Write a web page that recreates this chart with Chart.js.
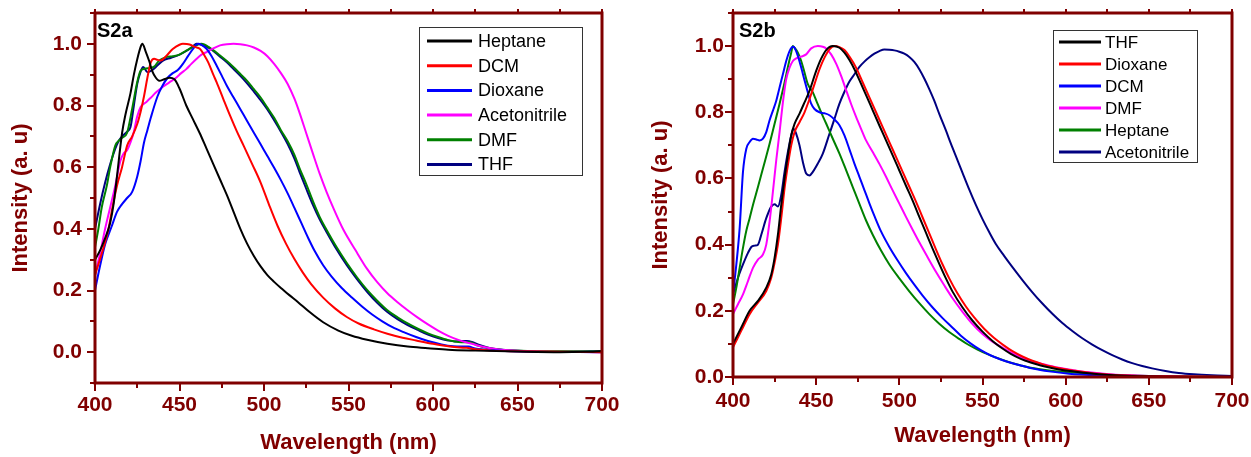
<!DOCTYPE html>
<html><head><meta charset="utf-8">
<script src="https://cdn.jsdelivr.net/npm/chart.js@4.4.0/dist/chart.umd.min.js"></script>
<style>
html,body{margin:0;padding:0;background:#fff;overflow:hidden;}
#wrap{position:relative;width:1251px;height:457px;}
.box{position:absolute;top:0;height:457px;}
#b1{left:0;width:625px;} #b2{left:625px;width:626px;}
</style></head><body>
<div id="wrap">
<div class="box" id="b1"><canvas id="c1" width="625" height="457"></canvas></div>
<div class="box" id="b2"><canvas id="c2" width="626" height="457"></canvas></div>
</div>
<script>
// ---------- tick values / labels ----------
const xTickValues = [400,425,450,475,500,525,550,575,600,625,650,675,700];
const xLabelValues = [400,450,500,550,600,650,700];
const yTickValuesA = [-0.1,0,0.1,0.2,0.3,0.4,0.5,0.6,0.7,0.8,0.9,1.0,1.1];
const yTickValuesB = [0,0.1,0.2,0.3,0.4,0.5,0.6,0.7,0.8,0.9,1.0,1.1];
const yLabelValues = [0,0.2,0.4,0.6,0.8,1.0];
const xTitle = 'Wavelength (nm)';
const yTitle = 'Intensity (a. u)';

// ---------- S2a series: [wavelength nm, intensity] ----------
const s2aLabels = ['Heptane','DCM','Dioxane','Acetonitrile','DMF','THF'];
const s2aHeptane = [[400,.30],[403,.33],[406,.37],[409,.42],[411,.48],[413,.57],[416,.71],[418,.77],[421,.84],[423,.90],[425,.95],[427,.99],[428,1.0],[430,.975],[432,.945],[434,.91],[436,.89],[438,.88],[441,.885],[444,.89],[447,.885],[450,.855],[454,.80],[458,.755],[462,.71],[466,.66],[470,.61],[474,.56],[478,.51],[482,.455],[486,.40],[490,.352],[494,.312],[498,.278],[502,.25],[506,.228],[510,.208],[515,.185],[520,.163],[527,.13],[535,.097],[544,.07],[552,.053],[561,.04],[573,.027],[585,.018],[597,.013],[609,.008],[625,.005],[650,.002],[675,.0],[690,.001],[700,.003]];
const s2aDCM = [[400,.25],[404,.32],[408,.40],[410,.46],[413,.54],[416,.60],[419,.67],[422,.70],[425,.74],[427,.78],[429,.83],[431,.89],[433,.94],[435,.952],[437,.948],[439,.946],[442,.96],[446,.983],[450,.997],[452,1.0],[456,.998],[459,.99],[462,.984],[465,.96],[467,.94],[470,.90],[472,.875],[476,.82],[480,.766],[484,.715],[488,.669],[493,.61],[498,.55],[503,.478],[508,.41],[513,.352],[518,.302],[523,.258],[528,.22],[535,.177],[542,.142],[549,.114],[556,.093],[565,.074],[573,.06],[582,.047],[590,.038],[600,.027],[610,.018],[616,.015],[620,.014],[624,.01],[635,.005],[650,.003],[675,.001],[700,.0]];
const s2aDioxane = [[400,.20],[403,.28],[406,.35],[410,.41],[413,.455],[416,.48],[419,.50],[422,.52],[425,.57],[427,.62],[429,.68],[431,.72],[433,.76],[437,.83],[440,.865],[443,.89],[446,.905],[449,.915],[452,.935],[455,.96],[458,.984],[461,1.0],[463,.997],[466,.984],[469,.96],[472,.929],[475,.897],[478,.864],[482,.826],[486,.788],[490,.75],[494,.712],[498,.674],[502,.636],[506,.598],[510,.558],[514,.515],[518,.468],[522,.42],[526,.372],[530,.328],[535,.282],[540,.245],[546,.208],[552,.177],[558,.148],[564,.122],[570,.1],[576,.081],[583,.064],[590,.049],[597,.036],[605,.025],[612,.019],[617,.018],[621,.018],[625,.012],[635,.006],[650,.002],[700,.0]];
const s2aAcetonitrile = [[400,.25],[403,.32],[406,.40],[409,.47],[412,.54],[415,.62],[417,.645],[419,.655],[421,.68],[423,.715],[425,.765],[427,.795],[430,.81],[433,.825],[436,.842],[440,.86],[444,.875],[448,.89],[451,.905],[454,.918],[457,.935],[460,.951],[463,.965],[466,.973],[470,.985],[474,.995],[478,.999],[482,1.0],[486,.999],[490,.995],[494,.988],[498,.977],[502,.96],[506,.935],[510,.905],[514,.87],[518,.822],[521,.777],[525,.71],[529,.643],[533,.578],[537,.52],[541,.468],[547,.397],[554,.332],[561,.27],[567,.227],[573,.191],[579,.162],[585,.136],[591,.112],[597,.09],[603,.07],[609,.053],[615,.04],[621,.03],[627,.021],[634,.013],[645,.006],[658,.002],[700,.0]];
const s2aDMF = [[400,.34],[402,.40],[404,.47],[407,.54],[409,.60],[412,.67],[414,.685],[416,.695],[419,.712],[422,.79],[425,.876],[427,.913],[430,.92],[433,.922],[435,.926],[438,.946],[442,.957],[446,.96],[450,.965],[454,.978],[458,.99],[461,.998],[463,1.0],[468,.987],[474,.962],[478,.944],[482,.924],[486,.902],[490,.88],[494,.853],[498,.826],[502,.793],[506,.76],[510,.72],[514,.684],[518,.64],[521,.597],[525,.545],[529,.489],[533,.438],[537,.397],[543,.34],[549,.289],[555,.243],[561,.202],[567,.167],[573,.136],[579,.113],[585,.093],[591,.076],[597,.061],[603,.049],[609,.039],[615,.033],[619,.032],[622,.032],[626,.022],[634,.012],[645,.006],[660,.003],[700,.002]];
const s2aTHF = [[400,.40],[403,.48],[406,.55],[409,.61],[412,.66],[414,.685],[416,.70],[419,.715],[421,.73],[423,.80],[425,.87],[427,.91],[428.5,.925],[431,.908],[434,.915],[436,.925],[440,.945],[445,.955],[450,.965],[455,.98],[458,.992],[460,1.0],[463,.997],[468,.985],[474,.958],[478,.94],[482,.918],[486,.896],[490,.872],[494,.845],[498,.817],[502,.787],[506,.752],[510,.715],[514,.675],[518,.628],[521,.585],[525,.53],[529,.477],[533,.43],[537,.39],[543,.333],[549,.282],[555,.237],[561,.196],[567,.16],[573,.13],[579,.107],[585,.088],[591,.072],[597,.057],[603,.046],[609,.038],[613,.035],[617,.036],[620,.036],[623,.033],[627,.024],[634,.013],[645,.006],[660,.003],[680,.002],[700,.004]];

// ---------- S2b series ----------
const s2bLabels = ['THF','Dioxane','DCM','DMF','Heptane','Acetonitrile'];
const s2bTHF = [[400,.10],[405,.15],[410,.20],[415,.23],[420,.27],[423,.31],[425,.36],[427,.43],[429,.52],[431,.60],[433,.67],[435,.73],[437,.765],[440,.796],[443,.83],[446,.865],[450,.925],[453,.962],[456,.988],[460,1.0],[464,.995],[467,.98],[470,.958],[473,.93],[476,.897],[480,.852],[484,.806],[488,.76],[492,.715],[496,.67],[500,.624],[504,.578],[508,.533],[512,.484],[516,.436],[520,.388],[524,.342],[528,.298],[532,.258],[538,.21],[544,.17],[550,.137],[556,.109],[562,.086],[567,.07],[573,.055],[579,.044],[585,.035],[591,.028],[597,.022],[603,.018],[614,.011],[626,.006],[640,.003],[660,.001],[700,.0]];
const s2bDioxane = [[400,.09],[405,.14],[410,.19],[415,.225],[420,.26],[423,.30],[425,.345],[427,.40],[429,.48],[431,.57],[433,.64],[435,.70],[437,.74],[440,.77],[443,.80],[446,.84],[449,.885],[452,.93],[455,.965],[458,.99],[461,1.0],[464,.997],[467,.988],[470,.968],[474,.935],[478,.89],[482,.845],[486,.80],[490,.755],[494,.71],[498,.665],[502,.62],[506,.575],[510,.53],[514,.482],[518,.434],[522,.386],[526,.34],[530,.298],[535,.252],[540,.213],[545,.18],[551,.146],[557,.118],[563,.095],[568,.078],[574,.062],[580,.049],[586,.039],[592,.031],[598,.025],[604,.02],[615,.012],[627,.007],[640,.004],[660,.002],[700,.0]];
const s2bDCM = [[400,.25],[402,.34],[404,.45],[406,.62],[408,.69],[410,.71],[412,.72],[414,.718],[416,.715],[418,.72],[420,.74],[422,.776],[424,.805],[426,.835],[428,.875],[430,.915],[432,.955],[434,.985],[436,.998],[437,.995],[439,.97],[441,.935],[443,.897],[445,.86],[447,.826],[449,.81],[452,.80],[455,.797],[458,.791],[461,.778],[464,.761],[467,.73],[470,.688],[473,.645],[476,.605],[479,.565],[482,.525],[485,.487],[489,.44],[494,.393],[499,.352],[504,.314],[509,.279],[514,.246],[520,.21],[526,.178],[532,.149],[537,.125],[543,.101],[549,.081],[555,.065],[561,.053],[567,.043],[573,.035],[578,.028],[584,.022],[590,.017],[602,.01],[620,.005],[650,.001],[700,.0]];
const s2bDMF = [[400,.19],[403,.22],[406,.25],[409,.29],[412,.33],[415,.355],[418,.37],[420,.40],[422,.47],[424,.56],[426,.655],[428,.74],[430,.83],[432,.9],[434,.935],[436,.955],[438,.963],[441,.968],[444,.975],[447,.993],[451,1.0],[454,.998],[456,.993],[459,.975],[462,.947],[465,.91],[468,.867],[471,.825],[474,.786],[477,.75],[480,.715],[484,.68],[488,.644],[492,.605],[496,.564],[500,.524],[504,.484],[508,.445],[512,.407],[517,.362],[522,.318],[527,.277],[532,.238],[538,.197],[544,.16],[550,.13],[556,.107],[562,.089],[568,.072],[574,.058],[580,.047],[588,.037],[595,.029],[602,.023],[614,.014],[626,.008],[638,.005],[650,.003],[675,.001],[700,.0]];
const s2bHeptane = [[400,.22],[402,.27],[404,.33],[406,.39],[408,.442],[410,.48],[412,.52],[415,.574],[418,.63],[422,.705],[425,.765],[428,.826],[431,.89],[433,.937],[435,.98],[436,1.0],[437,.995],[439,.98],[441,.955],[443,.92],[445,.885],[448,.86],[450,.836],[453,.80],[456,.766],[460,.72],[464,.675],[468,.625],[472,.574],[476,.523],[480,.473],[484,.43],[489,.382],[494,.34],[500,.298],[506,.259],[512,.223],[518,.19],[524,.161],[530,.136],[536,.115],[541,.099],[547,.083],[553,.069],[560,.055],[567,.043],[573,.035],[579,.028],[590,.02],[602,.014],[620,.008],[650,.003],[700,.0]];
const s2bAcetonitrile = [[400,.25],[403,.30],[406,.34],[409,.375],[411,.393],[413,.397],[415,.40],[417,.43],[420,.48],[423,.515],[425,.522],[427,.515],[429,.55],[431,.62],[433,.68],[435,.73],[436.3,.75],[438,.735],[440,.70],[442,.65],[444,.615],[446,.609],[448,.62],[451,.645],[454,.675],[458,.735],[461,.78],[464,.826],[467,.862],[470,.893],[473,.915],[476,.937],[479,.953],[482,.966],[485,.977],[488,.985],[491,.99],[494,.989],[497,.987],[500,.983],[503,.977],[506,.967],[509,.952],[512,.93],[515,.902],[518,.87],[521,.835],[524,.795],[528,.745],[531,.705],[535,.655],[538,.617],[542,.567],[546,.52],[550,.477],[554,.438],[558,.402],[563,.366],[568,.332],[574,.293],[580,.256],[586,.222],[592,.191],[598,.163],[604,.139],[610,.117],[616,.098],[622,.081],[628,.066],[634,.053],[640,.042],[646,.033],[652,.026],[660,.018],[668,.012],[677,.008],[688,.005],[700,.003]];

// ---------- styling ----------
const MAROON = '#800000';
const FONT = "'Liberation Sans', Arial, sans-serif";
const colA = ['#000000','#FF0000','#0000FF','#FF00FF','#008000','#000080'];
const colB = ['#000000','#FF0000','#0000FF','#FF00FF','#008000','#000080'];

function mkDatasets(labels, series, colors){
  return labels.map((l,i)=>({
    label:l,
    data: series[i].map(p=>({x:p[0], y:p[1]})),
    borderColor: colors[i], backgroundColor: colors[i],
    borderWidth: 2, pointRadius: 0, fill:false,
    cubicInterpolationMode:'monotone'
  }));
}

const framePlugin = {
  id:'frame',
  afterDatasetsDraw(chart, args, o){
    const {ctx, chartArea:a, scales:{x,y}} = chart;
    ctx.save();
    ctx.strokeStyle = MAROON;
    ctx.lineWidth = 2;
    ctx.beginPath();
    for (const t of xTickValues){
      const px = Math.round(x.getPixelForValue(t));
      const major = xLabelValues.includes(t);
      ctx.moveTo(px, a.bottom); ctx.lineTo(px, a.bottom + (major?8:5));
      ctx.moveTo(px, a.top); ctx.lineTo(px, a.top - 4);
    }
    for (const t of o.yTicks){
      const py = Math.round(y.getPixelForValue(t));
      const major = yLabelValues.some(v=>Math.abs(v-t)<1e-6);
      ctx.moveTo(a.left, py); ctx.lineTo(a.left - (major?8:5), py);
    }
    ctx.stroke();
    ctx.lineWidth = 3;
    ctx.strokeRect(a.left, a.top, a.right-a.left, a.bottom-a.top);
    ctx.restore();
  },
  afterDraw(chart, args, o){
    const {ctx, chartArea:a} = chart;
    ctx.save();
    ctx.fillStyle = '#000';
    ctx.font = 'bold 20px ' + FONT;
    ctx.textBaseline = 'alphabetic';
    ctx.textAlign = 'left';
    ctx.fillText(o.panel, a.left + o.panelDx, a.top + 24);
    const L = o.legend;
    ctx.strokeStyle = '#333';
    ctx.lineWidth = 1;
    ctx.strokeRect(L.x+0.5, L.y+0.5, L.w, L.h);
    ctx.font = L.size + 'px ' + FONT;
    ctx.textBaseline = 'middle';
    chart.data.datasets.forEach((ds,i)=>{
      const cy = L.y + L.first + i*L.step;
      ctx.strokeStyle = ds.borderColor;
      ctx.lineWidth = 3;
      ctx.beginPath(); ctx.moveTo(L.x + L.lx0, cy); ctx.lineTo(L.x + L.lx1, cy); ctx.stroke();
      ctx.fillStyle = '#000';
      ctx.fillText(ds.label, L.x + L.tx, cy + 1);
    });
    ctx.restore();
  }
};

function mkChart(id, labels, series, colors, cfg){
  return new Chart(document.getElementById(id), {
    type:'line',
    data:{datasets: mkDatasets(labels, series, colors)},
    plugins:[framePlugin],
    options:{
      responsive:false, animation:false, devicePixelRatio:1,
      layout:{padding:{top:13, right:cfg.padRight, left:0, bottom:0}},
      plugins:{legend:{display:false}, tooltip:{enabled:false},
        frame:{panel:cfg.panel, panelDx:cfg.panelDx, legend:cfg.legend, yTicks:cfg.yTicks}},
      scales:{
        x:{type:'linear', min:400, max:700,
          grid:{display:false, drawTicks:false}, border:{display:false},
          ticks:{stepSize:50, color:MAROON, padding:cfg.xPad, autoSkip:false, maxRotation:0,
            font:{family:FONT, size:21, weight:'bold'}},
          title:{display:true, text:xTitle, color:MAROON, padding:{top:0,bottom:cfg.xTitlePad},
            font:{family:FONT, size:22, weight:'bold'}},
          afterFit(s){ s.height = cfg.xHeight; s.paddingLeft = 0; s.paddingRight = 0; }
        },
        y:{type:'linear', min:cfg.yMin, max:1.1,
          grid:{display:false, drawTicks:false}, border:{display:false},
          ticks:{stepSize:0.1, color:MAROON, padding:cfg.yPad, autoSkip:false,
            font:{family:FONT, size:21, weight:'bold'},
            callback(v){ return yLabelValues.some(t=>Math.abs(t-v)<1e-6) ? v.toFixed(1) : ''; }},
          title:{display:true, text:yTitle, color:MAROON, padding:{top:cfg.yTitlePad,bottom:0},
            font:{family:FONT, size:22, weight:'bold'}},
          afterFit(s){ s.width = cfg.yWidth; s.paddingTop = 0; s.paddingBottom = 0; }
        }
      }
    }
  });
}

mkChart('c1', s2aLabels, [s2aHeptane,s2aDCM,s2aDioxane,s2aAcetonitrile,s2aDMF,s2aTHF], colA, {
  panel:'S2a', panelDx:2, padRight:23, xPad:10, xHeight:74, xTitlePad:1,
  yMin:-0.1, yPad:13, yTitlePad:8, yWidth:95, yTicks:yTickValuesA,
  legend:{x:419, y:27, w:163, h:148, first:14, step:24.7, lx0:8, lx1:53, tx:59, size:18}
});
mkChart('c2', s2bLabels, [s2bTHF,s2bDioxane,s2bDCM,s2bDMF,s2bHeptane,s2bAcetonitrile], colB, {
  panel:'S2b', panelDx:6, padRight:19, xPad:12, xHeight:80, xTitlePad:8,
  yMin:0, yPad:9, yTitlePad:23, yWidth:108, yTicks:yTickValuesB,
  legend:{x:1053-625, y:30, w:144, h:132, first:12, step:22, lx0:6, lx1:48, tx:52, size:17}
});
</script>
</body></html>
